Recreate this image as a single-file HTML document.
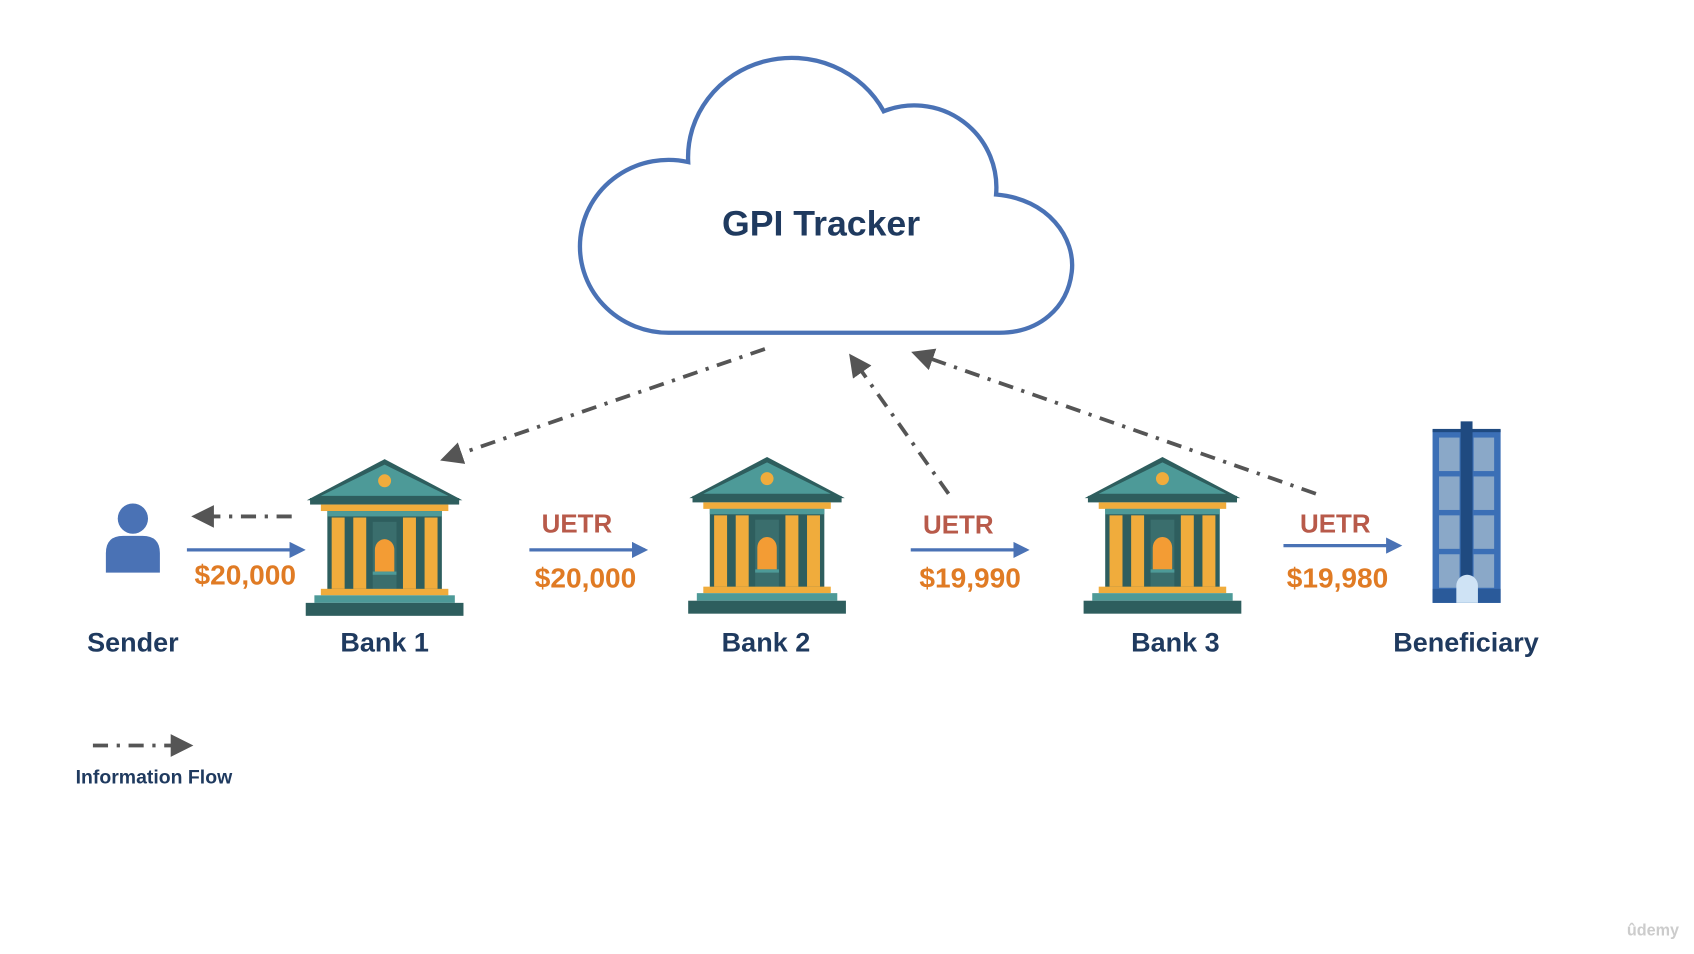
<!DOCTYPE html>
<html><head><meta charset="utf-8"><style>
html,body{margin:0;padding:0;background:#fff;}
svg{display:block;}
text{font-family:"Liberation Sans",sans-serif;font-weight:bold;}
</style></head><body>
<svg width="1694" height="954" viewBox="0 0 1568 883" preserveAspectRatio="none" xmlns="http://www.w3.org/2000/svg">
<defs>
<g id="bank">
  <polygon points="1,38 73,0 145,38" fill="#2e5e5e"/>
  <polygon points="14,34 73,5 132,34" fill="#4d9a98"/>
  <circle cx="73" cy="20" r="6" fill="#f0ac3c"/>
  <rect x="4" y="36" width="138" height="6" fill="#2e5e5e"/>
  <rect x="14" y="42" width="118" height="6" fill="#f0ac3c"/>
  <rect x="20" y="48" width="106" height="74" fill="#2e5e5e"/>
  <rect x="20" y="48" width="106" height="5" fill="#4d9a98"/>
  <rect x="24" y="54" width="12" height="66" fill="#f0ac3c"/>
  <rect x="44" y="54" width="12" height="66" fill="#f0ac3c"/>
  <rect x="90" y="54" width="12" height="66" fill="#f0ac3c"/>
  <rect x="110" y="54" width="12" height="66" fill="#f0ac3c"/>
  <rect x="62" y="58" width="22" height="62" fill="#3a6e6d"/>
  <path d="M64 104 V84 A9 10 0 0 1 82 84 V104 Z" fill="#f39c34"/>
  <rect x="62" y="104" width="22" height="3" fill="#4d9a98"/>
  <rect x="14" y="120" width="118" height="6" fill="#f0ac3c"/>
  <rect x="8" y="126" width="130" height="7" fill="#4d9a98"/>
  <rect x="0" y="133" width="146" height="12" fill="#2e5e5e"/>
</g>
<marker id="ag" markerWidth="6" markerHeight="6" refX="4" refY="3" orient="auto" markerUnits="strokeWidth">
  <path d="M0,0 L6,3 L0,6 Z" fill="#555"/>
</marker>
<marker id="ab" markerWidth="5" markerHeight="5" refX="4" refY="2.5" orient="auto" markerUnits="strokeWidth">
  <path d="M0,0 L5,2.5 L0,5 Z" fill="#4a72b5"/>
</marker>
</defs>

<!-- Cloud -->
<path d="M620 308 A82 80 0 1 1 637 150 A96 92 0 0 1 818 103 A76 76 0 0 1 922 180 C970 184 996 220 992 252 C988 285 962 308 925 308 Z" fill="#fff" stroke="#4a72b5" stroke-width="4"/>
<text x="760" y="218" font-size="33" fill="#1f3a5f" text-anchor="middle">GPI Tracker</text>

<!-- info flow arrows -->
<g stroke="#555" stroke-width="3.5" fill="none" stroke-dasharray="14 8 3 8" marker-end="url(#ag)">
  <line x1="708" y1="323" x2="414" y2="424"/>
  <line x1="878" y1="457" x2="790" y2="333"/>
  <line x1="1218" y1="457" x2="850" y2="328"/>
  <line x1="270" y1="478" x2="184" y2="478"/>
  <line x1="86" y1="690" x2="172" y2="690"/>
</g>

<!-- blue arrows -->
<g stroke="#4a72b5" stroke-width="3" marker-end="url(#ab)">
  <line x1="173" y1="509" x2="280" y2="509"/>
  <line x1="490" y1="509" x2="597" y2="509"/>
  <line x1="843" y1="509" x2="950" y2="509"/>
  <line x1="1188" y1="505" x2="1295" y2="505"/>
</g>

<!-- banks -->
<use href="#bank" x="283" y="425"/>
<use href="#bank" x="637" y="423"/>
<use href="#bank" x="1003" y="423"/>

<!-- sender -->
<circle cx="123" cy="480" r="14" fill="#4a72b5"/>
<path d="M98 530 V512 Q98 496 114 496 H132 Q148 496 148 512 V530 Z" fill="#4a72b5"/>

<!-- building -->
<rect x="1326" y="398" width="63" height="160" fill="#3b6fb6"/>
<rect x="1326" y="397" width="63" height="3" fill="#1f4a80"/>
<g fill="#8aa8c8">
  <rect x="1332" y="405" width="19" height="31"/><rect x="1364" y="405" width="19" height="31"/>
  <rect x="1332" y="441" width="19" height="31"/><rect x="1364" y="441" width="19" height="31"/>
  <rect x="1332" y="477" width="19" height="31"/><rect x="1364" y="477" width="19" height="31"/>
  <rect x="1332" y="513" width="19" height="31"/><rect x="1364" y="513" width="19" height="31"/>
</g>
<rect x="1352" y="390" width="11" height="145" fill="#1f4a80"/>
<rect x="1326" y="545" width="63" height="13" fill="#2a5a9a"/>
<path d="M1348 558 V542 A10 10 0 0 1 1368 542 V558 Z" fill="#cfe3f5"/>

<!-- labels -->
<g font-size="24" fill="#b85a4a" text-anchor="middle">
  <text x="534" y="493">UETR</text>
  <text x="887" y="494">UETR</text>
  <text x="1236" y="493">UETR</text>
</g>
<g font-size="26" fill="#e07b24" text-anchor="middle">
  <text x="227" y="541">$20,000</text>
  <text x="542" y="544">$20,000</text>
  <text x="898" y="544">$19,990</text>
  <text x="1238" y="544">$19,980</text>
</g>
<g font-size="25" fill="#1f3a5f" text-anchor="middle">
  <text x="123" y="603">Sender</text>
  <text x="356" y="603">Bank 1</text>
  <text x="709" y="603">Bank 2</text>
  <text x="1088" y="603">Bank 3</text>
  <text x="1357" y="603">Beneficiary</text>
</g>
<text x="70" y="725" font-size="18" fill="#1f3a5f">Information Flow</text>
<text x="1530" y="866" font-size="15" fill="#ccc" text-anchor="middle" font-weight="normal">ûdemy</text>
</svg>
</body></html>
